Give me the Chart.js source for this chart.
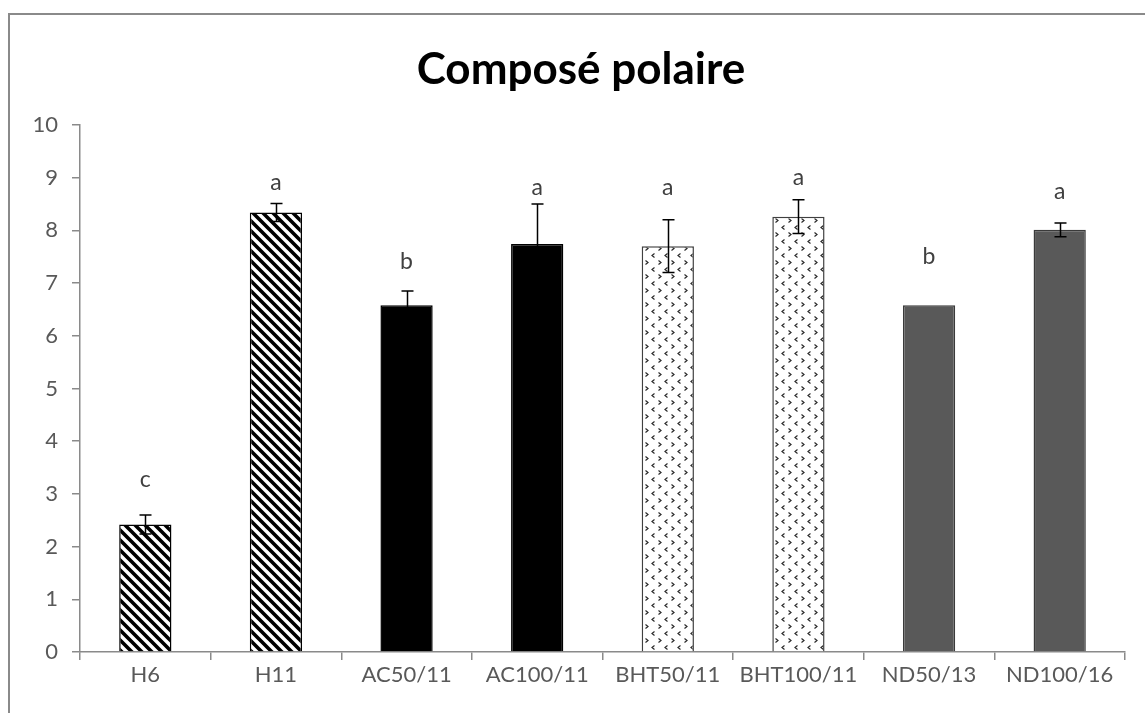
<!DOCTYPE html>
<html>
<head>
<meta charset="utf-8">
<script src="https://cdn.jsdelivr.net/npm/chart.js@4.4.1/dist/chart.umd.min.js"></script>
<style>
  html, body { margin: 0; padding: 0; background: #ffffff; }
  #wrap { width: 1145px; height: 713px; position: relative; }
</style>
</head>
<body>
<div id="wrap"><canvas id="chart" width="1145" height="713"></canvas></div>
<script>
// Sample groups on the x axis
const categories = ['H6', 'H11', 'AC50/11', 'AC100/11', 'BHT50/11', 'BHT100/11', 'ND50/13', 'ND100/16'];
// Mean polar compound content per group
const values = [2.42, 8.34, 6.58, 7.74, 7.70, 8.26, 6.58, 8.01];
// Standard deviation per group (error bars)
const errors = [0.18, 0.17, 0.27, 0.76, 0.50, 0.32, 0, 0.13];
// Significance letters and the height (in axis units) at which each is written
const letters = ['c', 'a', 'b', 'a', 'a', 'a', 'b', 'a'];
const letterLevels = [3.28, 8.91, 7.41, 8.81, 8.81, 9.01, 7.51, 8.73];
// Y axis ticks
const yTicks = [0, 1, 2, 3, 4, 5, 6, 7, 8, 9, 10];

const FONT = 'Lato, "Open Sans", sans-serif';
const ctx0 = document.getElementById('chart').getContext('2d');

// Diagonal hatch fill (lines falling left to right)
function hatchPattern() {
  const s = 10;
  const c = document.createElement('canvas');
  c.width = s; c.height = s;
  const g = c.getContext('2d');
  g.fillStyle = '#ffffff';
  g.fillRect(0, 0, s, s);
  g.strokeStyle = '#000000';
  g.lineWidth = 3.6;
  g.beginPath();
  g.moveTo(-2, -2); g.lineTo(s + 2, s + 2);
  g.moveTo(-2, s - 2); g.lineTo(2, s + 2);
  g.moveTo(s - 2, -2); g.lineTo(s + 2, 2);
  g.stroke();
  return ctx0.createPattern(c, 'repeat');
}

// Small chevron dots fill
function chevronPattern() {
  const w = 13, h = 14;
  const c = document.createElement('canvas');
  c.width = w; c.height = h;
  const g = c.getContext('2d');
  g.fillStyle = '#ffffff';
  g.fillRect(0, 0, w, h);
  g.strokeStyle = '#2a2a2a';
  g.lineWidth = 1.2;
  g.beginPath();
  // '<'
  g.moveTo(4.5, 1.5); g.lineTo(2, 3.5); g.lineTo(4.5, 5.5);
  // '>'
  g.moveTo(8.5, 8.5); g.lineTo(11, 10.5); g.lineTo(8.5, 12.5);
  g.stroke();
  return ctx0.createPattern(c, 'repeat');
}

const hatch = hatchPattern();
const chevron = chevronPattern();
const fills = [hatch, hatch, '#000000', '#000000', chevron, chevron, '#595959', '#595959'];
const borders = ['#000000', '#000000', '#000000', '#000000', '#404040', '#404040', '#3a3a3a', '#3a3a3a'];

// Frame, title, error bars and letters drawn around the bars
const decorations = {
  id: 'decorations',
  beforeDraw(chart) {
    const c = chart.ctx;
    c.save();
    c.fillStyle = '#ffffff';
    c.fillRect(0, 0, chart.width, chart.height);
    c.strokeStyle = '#8a8a8a';
    c.lineWidth = 2;
    c.strokeRect(9, 14, 2000, 2000);
    c.restore();
  },
  afterDatasetsDraw(chart) {
    const c = chart.ctx;
    const x = chart.scales.x, y = chart.scales.y;
    c.save();
    // title
    c.fillStyle = '#000000';
    c.font = 'bold 44px ' + FONT;
    c.textAlign = 'center';
    c.textBaseline = 'middle';
    c.fillText('Composé polaire', 581, 70);
    // error bars
    c.strokeStyle = '#000000';
    c.lineWidth = 1.5;
    values.forEach((v, i) => {
      const e = errors[i];
      if (!e) return;
      const cx = Math.round(x.getPixelForValue(i)) + 0.5;
      const yt = y.getPixelForValue(v + e);
      const yb = y.getPixelForValue(v - e);
      c.beginPath();
      c.moveTo(cx, yt); c.lineTo(cx, yb);
      c.moveTo(cx - 6, yt); c.lineTo(cx + 6, yt);
      c.moveTo(cx - 6, yb); c.lineTo(cx + 6, yb);
      c.stroke();
    });
    // letters
    c.fillStyle = '#404040';
    c.font = '23px ' + FONT;
    letters.forEach((t, i) => {
      c.fillText(t, x.getPixelForValue(i), y.getPixelForValue(letterLevels[i]));
    });
    c.restore();
  }
};

new Chart(ctx0, {
  type: 'bar',
  data: {
    labels: categories,
    datasets: [{
      data: values,
      backgroundColor: fills,
      borderColor: borders,
      borderWidth: 1.5,
      borderSkipped: 'bottom',
      barPercentage: 0.4,
      categoryPercentage: 1.0
    }]
  },
  options: {
    responsive: false,
    animation: false,
    devicePixelRatio: 1,
    layout: { padding: { left: 0, right: 20, top: 125, bottom: 0 } },
    plugins: {
      legend: { display: false },
      tooltip: { enabled: false },
      title: { display: false }
    },
    scales: {
      x: {
        offset: true,
        grid: { display: true, offset: true, drawOnChartArea: false, drawTicks: true, tickLength: 8, color: '#8a8a8a', lineWidth: 1.5 },
        border: { display: true, color: '#8a8a8a', width: 1.5 },
        ticks: { color: '#595959', font: { family: FONT, size: 22 }, padding: 2, maxRotation: 0, autoSkip: false },
        afterFit(scale) { scale.height = 61; }
      },
      y: {
        min: 0,
        max: 10,
        afterBuildTicks(scale) { scale.ticks = yTicks.map(v => ({ value: v })); },
        grid: { display: true, drawOnChartArea: false, drawTicks: true, tickLength: 8, color: '#8a8a8a', lineWidth: 1.5 },
        border: { display: true, color: '#8a8a8a', width: 1.5 },
        ticks: { color: '#595959', font: { family: FONT, size: 22 }, padding: 14 },
        afterFit(scale) { scale.width = 80; }
      }
    }
  },
  plugins: [decorations]
});
</script>
</body>
</html>
